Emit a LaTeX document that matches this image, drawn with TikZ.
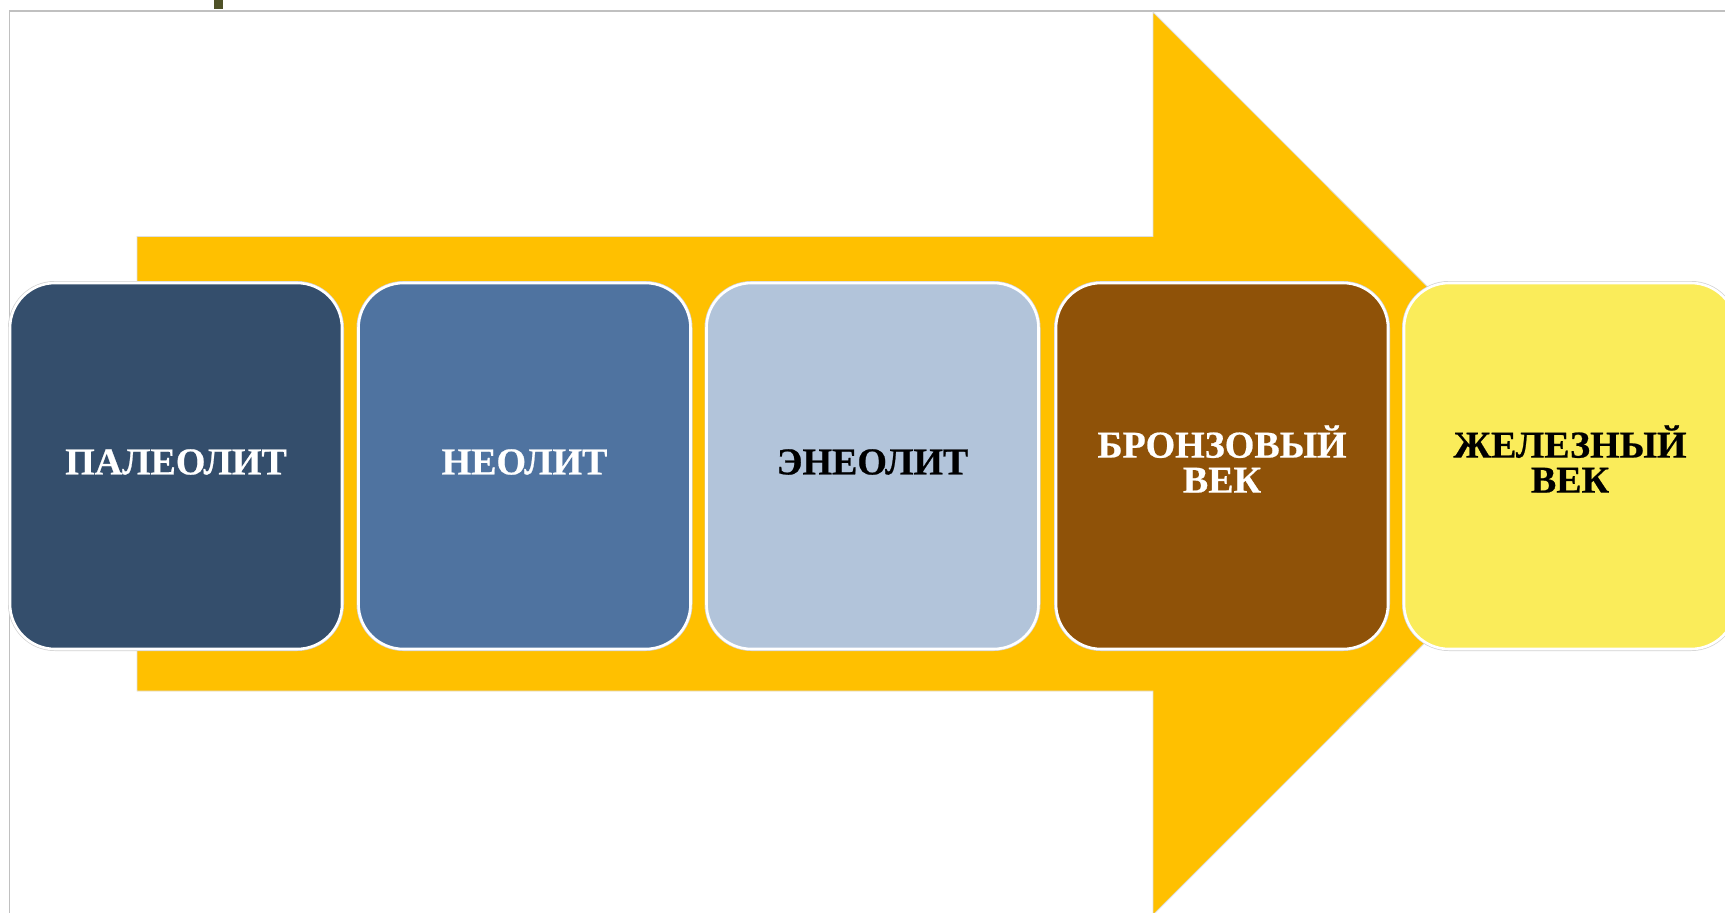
\documentclass[tikz,border=0pt]{standalone}
\usepackage{fontspec}
\setmainfont{Liberation Serif}[BoldFeatures={FakeBold=0.6}]
\definecolor{arrowc}{HTML}{FFC000}
\definecolor{cone}{HTML}{344E6C}
\definecolor{ctwo}{HTML}{4F73A0}
\definecolor{cthree}{HTML}{B2C4DA}
\definecolor{cfour}{HTML}{8F5208}
\definecolor{cfive}{HTML}{FAEC5A}
\definecolor{markc}{HTML}{4F5228}
\definecolor{framec}{HTML}{C0C0C0}
\tikzset{
  era/.style={rounded corners=45pt, minimum width=332pt, minimum height=366pt,
    inner sep=0pt, draw=white, line width=2.6pt,
    preaction={draw=gray!35, line width=4pt}},
  eratext/.style={inner sep=0pt, align=center,
    font=\fontsize{38}{35}\selectfont\bfseries},
}
\begin{document}
\begin{tikzpicture}[x=1pt,y=-1pt]
\useasboundingbox (0,0) rectangle (1725,913);
\begin{scope}
\clip (0,0) rectangle (1725,913);
% frame
\draw[framec, line width=1.2pt] (9.5,913) -- (9.5,11) -- (1725,11);
% small mark
\fill[markc] (214,0) rectangle (223,9);
% arrow
\path[fill=arrowc, draw=gray!25, line width=0.8pt]
  (137,236.5) -- (1153,236.5) -- (1153,12) -- (1604,463.5)
  -- (1153,915) -- (1153,691) -- (137,691) -- cycle;
% eras
\node[era, fill=cone]   (p1) at (176,466)   {};
\node[era, fill=ctwo]   (p2) at (524.5,466) {};
\node[era, fill=cthree] (p3) at (872.5,466) {};
\node[era, fill=cfour]  (p4) at (1222,466)  {};
\node[era, fill=cfive]  (p5) at (1570,466)  {};
\node[eratext, text=white] (t1) at ([yshift=4pt]p1.center) {ПАЛЕОЛИТ};
\node[eratext, text=white] (t2) at ([yshift=4pt]p2.center) {НЕОЛИТ};
\node[eratext, text=black] (t3) at ([yshift=4pt]p3.center) {ЭНЕОЛИТ};
\node[eratext, text=white] (t4) at ([yshift=7pt]p4.center) {БРОНЗОВЫЙ\\ВЕК};
\node[eratext, text=black] (t5) at ([yshift=7pt]p5.center) {ЖЕЛЕЗНЫЙ\\ВЕК};
\end{scope}
\end{tikzpicture}
\end{document}
